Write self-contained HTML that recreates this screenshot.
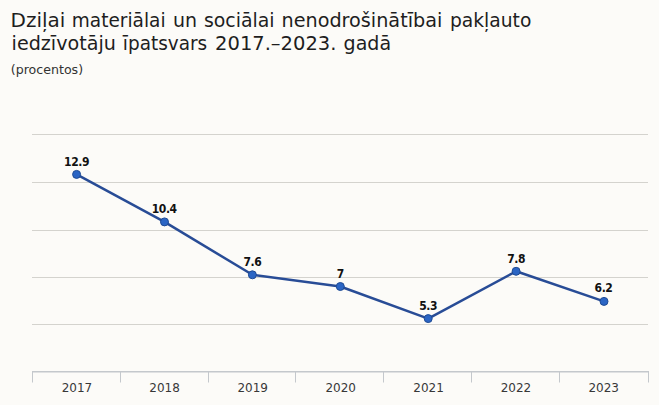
<!DOCTYPE html>
<html><head><meta charset="utf-8"><title>Dziļai materiālai un sociālai nenodrošinātībai pakļauto iedzīvotāju īpatsvars</title>
<style>
html,body{margin:0;padding:0;background:#fcfbf8;}
body{width:659px;height:405px;overflow:hidden;position:relative;}
svg{position:absolute;left:0;top:0;display:block;}
.t{font-family:"DejaVu Sans","Liberation Sans",sans-serif;font-size:19.2px;fill:#1e1e1e;}
.s{font-family:"DejaVu Sans","Liberation Sans",sans-serif;font-size:12.6px;fill:#333;}
.x{font-family:"DejaVu Sans","Liberation Sans",sans-serif;font-size:12px;fill:#383838;}
.d{font-family:"DejaVu Sans Condensed","DejaVu Sans","Liberation Sans",sans-serif;font-weight:bold;font-size:12px;letter-spacing:-0.4px;fill:#111;}
</style></head>
<body>
<svg width="659" height="405" viewBox="0 0 659 405">
  <text class="t" y="27.4"><tspan x="10.5" textLength="54.8" lengthAdjust="spacingAndGlyphs">Dziļai</tspan> <tspan x="71.8" textLength="93.8" lengthAdjust="spacingAndGlyphs">materiālai</tspan> <tspan x="173.0" textLength="24.1" lengthAdjust="spacingAndGlyphs">un</tspan> <tspan x="203.9" textLength="70.7" lengthAdjust="spacingAndGlyphs">sociālai</tspan> <tspan x="281.5" textLength="160.8" lengthAdjust="spacingAndGlyphs">nenodrošinātībai</tspan> <tspan x="450.0" textLength="81.3" lengthAdjust="spacingAndGlyphs">pakļauto</tspan></text>
  <text class="t" y="50.0"><tspan x="11.6" textLength="104.3" lengthAdjust="spacingAndGlyphs">iedzīvotāju</tspan> <tspan x="122.8" textLength="84.4" lengthAdjust="spacingAndGlyphs">īpatsvars</tspan> <tspan x="215.1" textLength="121.3" lengthAdjust="spacingAndGlyphs">2017.–2023.</tspan> <tspan x="343.6" textLength="47.5" lengthAdjust="spacingAndGlyphs">gadā</tspan></text>
  <text class="s" x="10.8" y="74.4">(procentos)</text>

  <g stroke="#d4d3ce" stroke-width="1" shape-rendering="crispEdges">
    <line x1="32" y1="134.5" x2="648" y2="134.5"/>
    <line x1="32" y1="182.5" x2="648" y2="182.5"/>
    <line x1="32" y1="230.5" x2="648" y2="230.5"/>
    <line x1="32" y1="277.5" x2="648" y2="277.5"/>
    <line x1="32" y1="324.5" x2="648" y2="324.5"/>
  </g>
  <g fill="#c4c8cc">
    <rect x="32" y="371" width="617" height="1.5"/>
    <rect x="32" y="371" width="1" height="11.5"/>
    <rect x="120" y="371" width="1" height="11.5"/>
    <rect x="208" y="371" width="1" height="11.5"/>
    <rect x="295" y="371" width="1" height="11.5"/>
    <rect x="383" y="371" width="1" height="11.5"/>
    <rect x="471" y="371" width="1" height="11.5"/>
    <rect x="559" y="371" width="1" height="11.5"/>
    <rect x="648" y="371" width="1" height="11.5"/>
  </g>
  <g class="x" text-anchor="middle">
    <text x="76.95" y="392">2017</text>
    <text x="164.55" y="392">2018</text>
    <text x="252.65" y="392">2019</text>
    <text x="340.75" y="392">2020</text>
    <text x="428.55" y="392">2021</text>
    <text x="515.95" y="392">2022</text>
    <text x="603.75" y="392">2023</text>
  </g>

  <polyline fill="none" stroke="#284c96" stroke-width="2.5" stroke-linejoin="round"
    points="76.6,174.4 164.5,221.9 252.4,274.8 340.3,286.5 428.2,318.6 516.1,271.3 604.0,301.4"/>
  <g fill="#2b65c4" stroke="#1f4b94" stroke-width="1">
    <circle cx="76.6" cy="174.4" r="4"/>
    <circle cx="164.5" cy="221.9" r="4"/>
    <circle cx="252.4" cy="274.8" r="4"/>
    <circle cx="340.3" cy="286.5" r="4"/>
    <circle cx="428.2" cy="318.6" r="4"/>
    <circle cx="516.1" cy="271.3" r="4"/>
    <circle cx="604.0" cy="301.4" r="4"/>
  </g>
  <g class="d" text-anchor="middle">
    <text x="76.6" y="166.0">12.9</text>
    <text x="164.2" y="213.0">10.4</text>
    <text x="252.4" y="266.4">7.6</text>
    <text x="340.3" y="278.1">7</text>
    <text x="428.2" y="310.2">5.3</text>
    <text x="516.1" y="262.9">7.8</text>
    <text x="603.5" y="292.3">6.2</text>
  </g>
</svg>
</body></html>
